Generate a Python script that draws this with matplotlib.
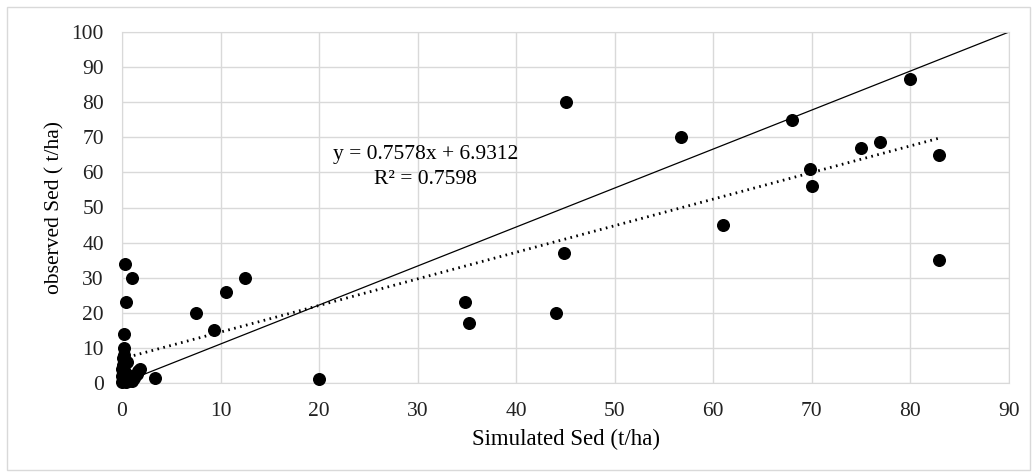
import matplotlib.pyplot as plt
from matplotlib.patches import Rectangle

# simulated vs observed sediment (t/ha)
sim_sed = [0.3, 1.0, 0.4, 0.2, 0.2, 0.2, 0.1, 0.2, 0.5, 0.1, 0.0, 0.3, 0.0,
           0.1, 0.0, 0.6, 1.0, 1.2, 1.6, 1.8, 1.5, 0.8, 0.4, 3.3,
           7.5, 9.3, 10.6, 12.5, 20.0, 34.8, 35.2, 44.0, 44.8, 45.0,
           56.7, 61.0, 68.0, 69.8, 70.0, 75.0, 76.9, 80.0, 82.9, 82.9]
obs_sed = [34, 30, 23, 14, 10, 8, 7, 6, 6, 5, 4, 3, 2,
           1, 0.3, 0.5, 0.5, 1.5, 3.5, 4, 2.5, 2, 0.2, 1.5,
           20, 15, 26, 30, 1, 23, 17, 20, 37, 80,
           70, 45, 75, 61, 56, 67, 68.7, 86.6, 65, 35]

ref_x = [0, 90]
ref_y = [0, 100]
slope, intercept = 0.7578, 6.9312

plt.rcParams["font.family"] = ["Liberation Serif", "DejaVu Serif"]

fig = plt.figure(figsize=(10.33, 4.72), dpi=100)
ax = fig.add_axes([122 / 1033, 1 - 383 / 472, (1009 - 122) / 1033, (383 - 32) / 472])

ax.scatter(sim_sed, obs_sed, s=70, color="black", zorder=3, clip_on=False)
ax.plot(ref_x, ref_y, color="black", lw=0.9, zorder=2)
tx = [0, max(sim_sed)]
ax.plot(tx, [slope * v + intercept for v in tx], color="black", lw=2,
        linestyle=(0, (0.6, 1.6)), zorder=2)

ax.text(30.8, 65.0, f"y = {slope}x + {intercept}", ha="center", va="center", fontsize=15.5)
ax.text(30.8, 58.0, "R² = 0.7598", ha="center", va="center", fontsize=15.5)

ax.set_xlim(0, 90)
ax.set_ylim(0, 100)
ax.set_xticks(range(0, 91, 10))
ax.set_yticks(range(0, 101, 10))
ax.grid(True, color="#d9d9d9", lw=1)
ax.set_axisbelow(True)
for s in ax.spines.values():
    s.set_color("#d9d9d9")
ax.tick_params(length=0, labelsize=15.5, colors="#222222")
ax.tick_params(axis="y", pad=13)
ax.tick_params(axis="x", pad=14)
ax.set_xlabel("Simulated Sed (t/ha)", fontsize=16.5, labelpad=5)
ax.set_ylabel("observed Sed ( t/ha)", fontsize=15.5, labelpad=5)

fig.patches.append(Rectangle((7 / 1033, 0.005), 1 - 10 / 1033, 1 - 7 / 472 - 0.005,
                             transform=fig.transFigure, fill=False,
                             edgecolor="#d9d9d9", lw=1))

fig.savefig("out.png", dpi=100)
